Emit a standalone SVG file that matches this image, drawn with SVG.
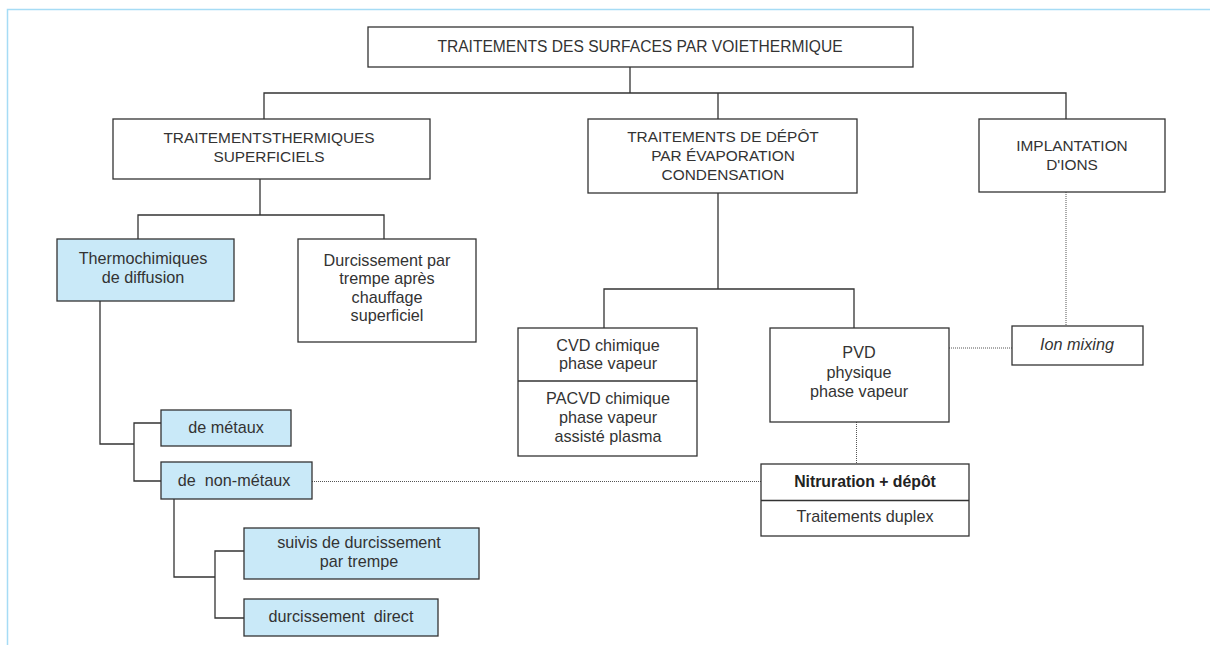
<svg xmlns="http://www.w3.org/2000/svg" width="1210" height="645" viewBox="0 0 1210 645">
<style>
.frame{fill:none;stroke:#a6dcf5;stroke-width:1.5}
.box{fill:#fff;stroke:#333;stroke-width:1.3}
.blue{fill:#c9e9f8;stroke:#333;stroke-width:1.3}
.ln{fill:none;stroke:#333;stroke-width:1.3}
.dot{fill:none;stroke:#555;stroke-width:1;stroke-dasharray:1 1}
text{font-family:"Liberation Sans",Arial,sans-serif;font-size:16.2px;fill:#333;text-anchor:middle}
.cap{font-size:15.4px}
.title{font-size:15.6px}
.b{font-weight:bold;fill:#222;font-size:15.8px}
.i{font-style:italic}
</style>
<rect width="1210" height="645" fill="#fff"/>
<path class="frame" d="M7.5,645 V9.5 H1210"/>
<g id="connectors">
<path class="ln" d="M630,67 V93 M264,119 V93 H1066 V119 M718,93 V119"/>
<path class="ln" d="M260,179 V215 M138,239 V215 H384 V239"/>
<path class="ln" d="M100,301 V444 H134 M161,423 H134 V481 H161"/>
<path class="ln" d="M174,499 V577 H215 M244,551 H215 V618 H244"/>
<path class="ln" d="M718,193 V289 M604,328 V289 H854 V328"/>
<path class="dot" d="M312,481.5 H761"/>
<path class="dot" d="M856.5,422 V464"/>
<path class="dot" d="M1066,192 V326"/>
<path class="dot" d="M949,348 H1012"/>
</g>
<g id="root"><rect class="box" x="368" y="27" width="545" height="40"/><text class="title" x="640" y="52">TRAITEMENTS DES SURFACES PAR VOIETHERMIQUE</text></g>
<g id="tts"><rect class="box" x="113" y="119" width="317" height="60"/><text class="cap" x="269" y="143">TRAITEMENTSTHERMIQUES</text><text class="cap" x="269" y="162">SUPERFICIELS</text></g>
<g id="tde"><rect class="box" x="588" y="119" width="269" height="74"/><text class="cap" x="723" y="142">TRAITEMENTS DE DÉPÔT</text><text class="cap" x="723" y="161">PAR ÉVAPORATION</text><text class="cap" x="723" y="180">CONDENSATION</text></g>
<g id="impl"><rect class="box" x="979" y="119" width="186" height="73"/><text class="cap" x="1072" y="151">IMPLANTATION</text><text class="cap" x="1072" y="169.5">D'IONS</text></g>
<g id="thermo"><rect class="blue" x="57" y="239" width="177" height="62"/><text x="143" y="264">Thermochimiques</text><text x="143" y="283">de diffusion</text></g>
<g id="durc"><rect class="box" x="298" y="239" width="178" height="103"/><text x="387" y="266">Durcissement par</text><text x="387" y="284.3">trempe après</text><text x="387" y="302.6">chauffage</text><text x="387" y="320.9">superficiel</text></g>
<g id="metaux"><rect class="blue" x="161" y="410" width="130" height="36"/><text x="226" y="433">de métaux</text></g>
<g id="nonmetaux"><rect class="blue" x="161" y="462" width="151" height="37"/><text x="234" y="486" xml:space="preserve">de  non-métaux</text></g>
<g id="suivis"><rect class="blue" x="244" y="528" width="235" height="51"/><text x="359" y="547.5">suivis de durcissement</text><text x="359" y="566.5">par trempe</text></g>
<g id="direct"><rect class="blue" x="244" y="599" width="194" height="37"/><text x="341" y="621.5" xml:space="preserve">durcissement  direct</text></g>
<g id="cvd"><rect class="box" x="518" y="328" width="179" height="128"/><path class="ln" d="M518,381 H697"/><text x="608" y="350.5">CVD chimique</text><text x="608" y="369">phase vapeur</text><text x="608" y="404">PACVD chimique</text><text x="608" y="422.7">phase vapeur</text><text x="608" y="441.5">assisté plasma</text></g>
<g id="pvd"><rect class="box" x="770" y="328" width="179" height="94"/><text x="859" y="358">PVD</text><text x="859" y="378">physique</text><text x="859" y="397">phase vapeur</text></g>
<g id="ionmixing"><rect class="box" x="1012" y="326" width="131" height="39"/><text class="i" x="1077" y="349.5">Ion mixing</text></g>
<g id="duplex"><rect class="box" x="761" y="464" width="208" height="72"/><path class="ln" d="M761,500.5 H969"/><text class="b" x="865" y="487">Nitruration + dépôt</text><text x="865" y="521.5">Traitements duplex</text></g>
</svg>
